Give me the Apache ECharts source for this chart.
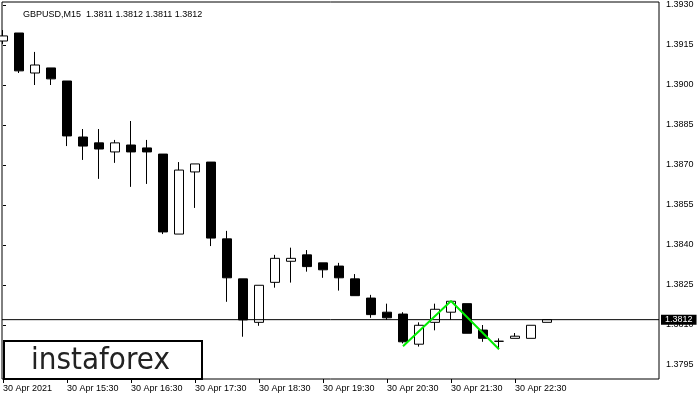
<!DOCTYPE html>
<html><head><meta charset="utf-8">
<script src="https://cdn.jsdelivr.net/npm/echarts@6/dist/echarts.min.js"></script>
<style>html,body{margin:0;padding:0;background:#fff}#c{width:700px;height:400px}</style>
</head><body><div id="c"></div>
<script>
const symbolName = 'GBPUSD,M15';
const lastQuote = ['1.3811', '1.3812', '1.3811', '1.3812'];
const opens  = [1.39165,1.39195,1.39045,1.39064,1.39015,1.38805,1.38783,1.38749,1.38775,1.38764,
                1.38741,1.38441,1.38674,1.38711,1.38423,1.38273,1.38110,1.38260,1.38339,1.38363,
                1.38333,1.38321,1.38273,1.38201,1.38148,1.38141,1.38028,1.38110,1.38148,1.38180,
                1.38081,1.38039,1.38050,1.38050,1.38110];
const closes = [1.39184,1.39053,1.39075,1.39023,1.38809,1.38771,1.38760,1.38783,1.38749,1.38749,
                1.38449,1.38681,1.38704,1.38426,1.38277,1.38119,1.38249,1.38350,1.38350,1.38319,
                1.38307,1.38277,1.38210,1.38139,1.38127,1.38037,1.38099,1.38159,1.38189,1.38069,
                1.38050,1.38039,1.38058,1.38099,1.38120];
const lows   = [1.39154,1.39045,1.39000,1.39000,1.38771,1.38719,1.38648,1.38708,1.38618,1.38629,
                1.38441,1.38441,1.38539,1.38396,1.38187,1.38056,1.38097,1.38240,1.38259,1.38300,
                1.38277,1.38229,1.38210,1.38127,1.38119,1.38031,1.38019,1.38080,1.38119,1.38069,
                1.38037,1.38009,1.38050,1.38050,1.38110];
const highs  = [1.39206,1.39195,1.39124,1.39064,1.39015,1.38835,1.38835,1.38794,1.38865,1.38794,
                1.38741,1.38711,1.38704,1.38711,1.38453,1.38273,1.38249,1.38363,1.38390,1.38381,
                1.38333,1.38333,1.38291,1.38213,1.38180,1.38148,1.38110,1.38180,1.38190,1.38180,
                1.38100,1.38050,1.38070,1.38099,1.38120];
const xTickIndex = [0, 4, 8, 12, 16, 20, 24, 28, 32];
const xTickLabels = ['30 Apr 2021', '30 Apr 15:30', '30 Apr 16:30', '30 Apr 17:30', '30 Apr 18:30',
                     '30 Apr 19:30', '30 Apr 20:30', '30 Apr 21:30', '30 Apr 22:30'];
const yTicks = [1.3795, 1.3810, 1.3825, 1.3840, 1.3855, 1.3870, 1.3885, 1.3900, 1.3915, 1.3930];
const currentPrice = 1.3812;
const patternIdx = [25, 28, 31];
const patternPrice = [1.38020, 1.38190, 1.38009];
const logoText = 'instaforex';

const X_MIN = -0.0625, X_MAX = 41;
const candleData = opens.map((o, i) => [i, o, closes[i], lows[i], highs[i]]);
const patternData = patternIdx.map((x, i) => [x, patternPrice[i]]);
const priceLineData = [[X_MIN, currentPrice], [X_MAX, currentPrice]];

const chart = echarts.init(document.getElementById('c'), null, {renderer: 'canvas'});
const axisFont = {fontFamily: 'Liberation Sans', fontSize: 9, color: '#000'};
chart.setOption({
  animation: false,
  backgroundColor: '#fff',
  title: {
    text: symbolName + '  ' + lastQuote.join(' '),
    left: 18, top: 5,
    textStyle: {fontFamily: 'Liberation Sans', fontSize: 9, fontWeight: 'normal', color: '#000'}
  },
  grid: {left: 2, top: 2, right: 41, bottom: 21, show: true, borderColor: '#000', borderWidth: 1, backgroundColor: '#fff'},
  xAxis: {
    type: 'value', min: X_MIN, max: X_MAX,
    axisLine: {show: false},
    splitLine: {show: false},
    axisTick: {show: true, length: 4, inside: false, customValues: xTickIndex, lineStyle: {color: '#000'}},
    axisLabel: Object.assign({
      customValues: xTickIndex, align: 'left', margin: 5,
      formatter: v => xTickLabels[xTickIndex.indexOf(Math.round(v))] || ''
    }, axisFont)
  },
  yAxis: {
    type: 'value', position: 'right', min: 1.378975, max: 1.3931125, scale: true,
    axisLine: {show: false},
    splitLine: {show: false},
    axisTick: {show: true, length: 3, inside: false, customValues: yTicks, lineStyle: {color: '#000'}},
    axisLabel: Object.assign({
      customValues: yTicks, align: 'left', margin: 7,
      formatter: v => v.toFixed(4)
    }, axisFont)
  },
  graphic: [
    {type: 'rect', left: 3, top: 340, shape: {width: 198, height: 38},
     style: {fill: '#fff', stroke: '#000', lineWidth: 2}, z: 100},
    {type: 'text', x: 31, y: 361, scaleX: 0.9, z: 101,
     style: {text: logoText, fill: '#222', font: '31px "DejaVu Sans"', align: 'left', verticalAlign: 'middle'}}
  ],
  series: [
    {
      type: 'candlestick',
      data: candleData,
      barWidth: 10,
      clip: true,
      itemStyle: {color: '#fff', color0: '#000', borderColor: '#000', borderColor0: '#000', borderWidth: 1},
      emphasis: {disabled: true}
    },
    {
      type: 'line', data: priceLineData, symbol: 'none', z: 4, silent: true,
      lineStyle: {color: '#000', width: 1},
      emphasis: {disabled: true},
      endLabel: {show: true, distance: 2, formatter: () => currentPrice.toFixed(4),
                 backgroundColor: '#000', color: '#fff', fontFamily: 'Liberation Sans', fontSize: 9,
                 padding: [1, 4, 0, 4], lineHeight: 9}
    },
    {
      type: 'line', data: patternData, symbol: 'none', z: 5,
      lineStyle: {color: '#00ee00', width: 2},
      emphasis: {disabled: true}
    }
  ]
});
</script></body></html>
